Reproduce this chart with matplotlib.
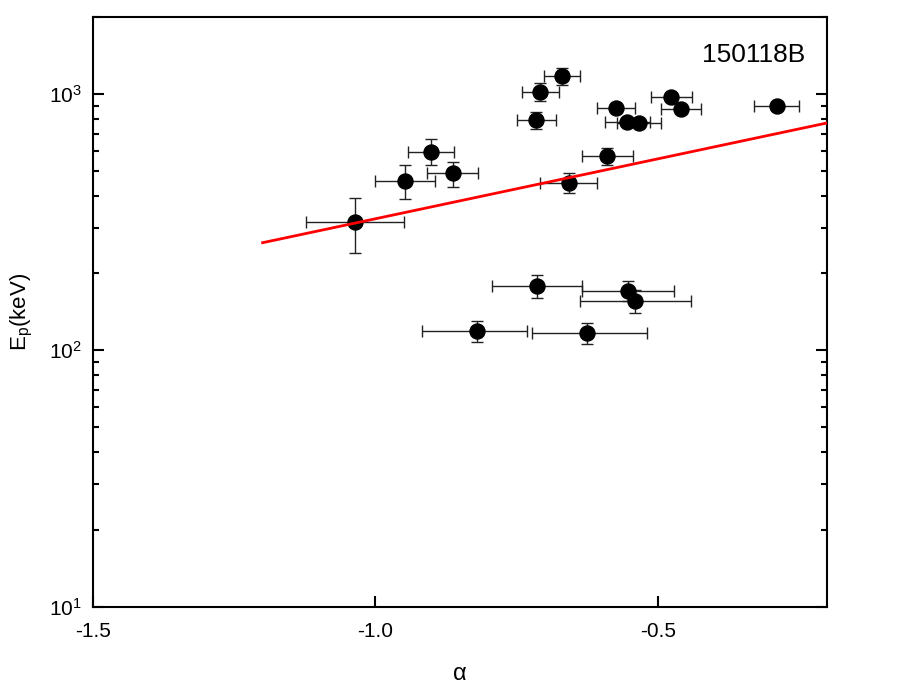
import matplotlib
matplotlib.use("Agg")
import matplotlib.pyplot as plt
import numpy as np
from matplotlib.ticker import LogLocator, NullFormatter, FixedLocator

plt.rcParams['font.family'] = ['Liberation Sans', 'DejaVu Sans']
plt.rcParams['mathtext.fontset'] = 'custom'
plt.rcParams['mathtext.rm'] = 'Liberation Sans'
plt.rcParams['mathtext.it'] = 'Liberation Sans:italic'
plt.rcParams['mathtext.default'] = 'regular'

# Data: alpha, alpha errors (lower, upper), Ep, Ep errors (lower, upper)
alpha = [-1.036, -0.948, -0.902, -0.863, -0.669, -0.708, -0.715, -0.574,
         -0.554, -0.534, -0.476, -0.459, -0.589, -0.658, -0.289,
         -0.714, -0.553, -0.540, -0.821, -0.625]
alpha_lo = [0.087, 0.053, 0.041, 0.045, 0.032, 0.033, 0.035, 0.033,
            0.039, 0.039, 0.036, 0.036, 0.046, 0.050, 0.040,
            0.079, 0.082, 0.098, 0.097, 0.097]
alpha_hi = [0.086, 0.053, 0.041, 0.045, 0.032, 0.033, 0.035, 0.033,
            0.041, 0.039, 0.036, 0.036, 0.046, 0.050, 0.040,
            0.079, 0.082, 0.099, 0.090, 0.106]
ep = [316, 459, 596, 491, 1171, 1018, 792, 882,
      778, 771, 970, 874, 570, 451, 898,
      178.6, 170.9, 156.2, 118.9, 116.4]
ep_lo = [77, 70, 66, 56, 84, 76, 60, 30,
         30, 30, 35, 30, 44, 41, 30,
         18, 15, 16, 11.4, 10.9]
ep_hi = [78, 70, 68, 52, 91, 82, 61, 30,
         30, 30, 35, 30, 44, 40, 30,
         18, 15, 16, 11.7, 11.0]

# Fit line: log10(Ep) = fit_a + fit_b * alpha over the range fit_range
fit_a = 2.980
fit_b = 0.467
fit_range = [-1.2, -0.2]

label_text = "150118B"
xticks = [-1.5, -1.0, -0.5]
xticklabels = ["-1.5", "-1.0", "-0.5"]
yticks = [10, 100, 1000]
yticklabels = ["$10^{1}$", "$10^{2}$", "$10^{3}$"]

fig = plt.figure(figsize=(9.17, 6.95), dpi=100)
ax = fig.add_axes([0.1017, 0.127, 0.8002, 0.849])

ax.errorbar(alpha, ep, xerr=[alpha_lo, alpha_hi], yerr=[ep_lo, ep_hi],
            fmt='o', color='black', ms=10.8, ecolor='#222222',
            elinewidth=1.0, capsize=4.2, capthick=1.0, zorder=3)

xf = np.linspace(fit_range[0], fit_range[1], 100)
ax.plot(xf, 10 ** (fit_a + fit_b * xf), color='#ff0000', lw=2.0, zorder=4)

ax.set_yscale('log')
ax.set_xlim(-1.5, -0.2)
ax.set_ylim(10, 2000)

ax.xaxis.set_major_locator(FixedLocator(xticks))
ax.set_xticklabels(xticklabels)
ax.yaxis.set_major_locator(FixedLocator(yticks))
ax.set_yticklabels(yticklabels)
ax.yaxis.set_minor_locator(LogLocator(base=10, subs=np.arange(2, 10)))
ax.yaxis.set_minor_formatter(NullFormatter())

ax.tick_params(axis='both', which='major', direction='in', length=8, width=1.5,
               labelsize=15)
ax.tick_params(axis='x', which='major', pad=11)
ax.tick_params(axis='y', which='major', pad=8)
ax.tick_params(axis='y', which='minor', direction='in', length=4.5, width=1.5)
ax.tick_params(axis='y', which='both', right=True)
ax.tick_params(axis='x', which='both', top=False)
for s in ax.spines.values():
    s.set_linewidth(1.5)

ax.set_xlabel('α', fontsize=17, labelpad=16)
ax.set_ylabel('E$_{p}$(keV)', fontsize=16, labelpad=10)

ax.text(0.97, 0.935, label_text, transform=ax.transAxes, ha='right', va='center',
        fontsize=19)

fig.savefig('out.png', dpi=100)
